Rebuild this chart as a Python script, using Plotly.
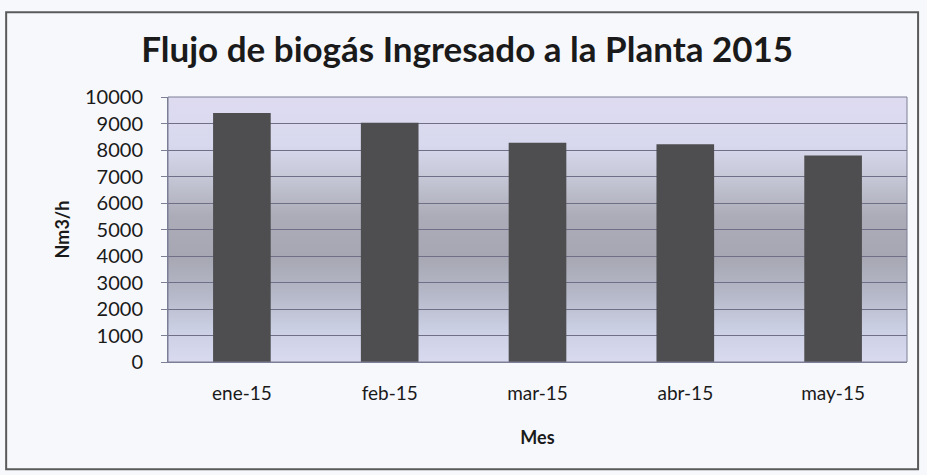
import base64

import plotly.graph_objects as go

# Monthly biogas flow into the plant (Nm3/h)
months = ['ene-15', 'feb-15', 'mar-15', 'abr-15', 'may-15']
flow_nm3h = [9400, 9030, 8270, 8220, 7790]

y_ticks = [0, 1000, 2000, 3000, 4000, 5000, 6000, 7000, 8000, 9000, 10000]
y_tick_labels = [str(v) for v in y_ticks]

FONT = 'Lato'
TEXT_COLOR = '#1a1a1a'

# Excel-style vertical gradient for the plot area, passed in as an SVG background image
GRADIENT_SVG = """<svg xmlns='http://www.w3.org/2000/svg' width='100' height='100' preserveAspectRatio='none'>
<defs><linearGradient id='g' x1='0' y1='0' x2='0' y2='1'>
<stop offset='0' stop-color='#dedbf1'/>
<stop offset='0.18' stop-color='#d8d9ee'/>
<stop offset='0.32' stop-color='#c3c4d3'/>
<stop offset='0.45' stop-color='#acacb8'/>
<stop offset='0.6' stop-color='#a6a7b2'/>
<stop offset='0.75' stop-color='#b6b9c9'/>
<stop offset='0.88' stop-color='#ccd0e4'/>
<stop offset='1' stop-color='#d9daf0'/>
</linearGradient></defs>
<rect width='100' height='100' fill='url(#g)'/></svg>"""
gradient_src = 'data:image/svg+xml;base64,' + base64.b64encode(GRADIENT_SVG.encode()).decode()

fig = go.Figure(go.Bar(
    x=months,
    y=flow_nm3h,
    width=0.39,
    marker=dict(color='#4e4e50', line=dict(width=0)),
    hovertemplate='%{x}: %{y} Nm3/h<extra></extra>',
))

fig.update_layout(
    width=927,
    height=475,
    margin=dict(l=168, r=20, t=97, b=113),
    paper_bgcolor='#f7f8fc',
    plot_bgcolor='rgba(0,0,0,0)',
    showlegend=False,
    font=dict(family=FONT, size=19, color=TEXT_COLOR),
    title=dict(
        text='<b>Flujo de biogás Ingresado a la Planta 2015</b>',
        font=dict(family=FONT, size=35, color=TEXT_COLOR),
        x=0.504, xanchor='center',
        y=0.895, yanchor='middle',
    ),
    xaxis=dict(
        title=dict(text='<b>Mes</b>', font=dict(size=18), standoff=28),
        showgrid=False,
        showline=True, linecolor='#7d7f95', linewidth=1,
        ticks='', ticklabelstandoff=14,
        tickfont=dict(size=19),
    ),
    yaxis=dict(
        title=dict(text='<b>Nm3/h</b>', font=dict(size=18), standoff=10),
        range=[0, 10000],
        tickmode='array', tickvals=y_ticks, ticktext=y_tick_labels,
        showgrid=True, gridcolor='#6f7088', gridwidth=1,
        showline=True, linecolor='#7d7f95', linewidth=1,
        ticks='outside', ticklen=6, tickcolor='#7d7f95',
        ticklabelstandoff=14,
        tickfont=dict(size=20),
        zeroline=False,
    ),
    images=[dict(
        source=gradient_src,
        xref='paper', yref='paper',
        x=0, y=1, sizex=1, sizey=1,
        xanchor='left', yanchor='top',
        sizing='stretch', layer='below',
    )],
    shapes=[
        # right/top edge of the plot area
        dict(type='rect', xref='paper', yref='paper', x0=0, y0=0, x1=1, y1=1,
             line=dict(color='#7d7f95', width=1)),
        # outer chart frame
        dict(type='rect', xref='paper', yref='paper',
             x0=-0.219, y0=-0.405, x1=1.015, y1=1.32,
             line=dict(color='#5a5a5a', width=2)),
    ],
)

# drop the page's default body margin so the figure sits at the window origin
fig.write_html('out.html', config={'displayModeBar': False},
               post_script="document.body.style.margin = '0';")
